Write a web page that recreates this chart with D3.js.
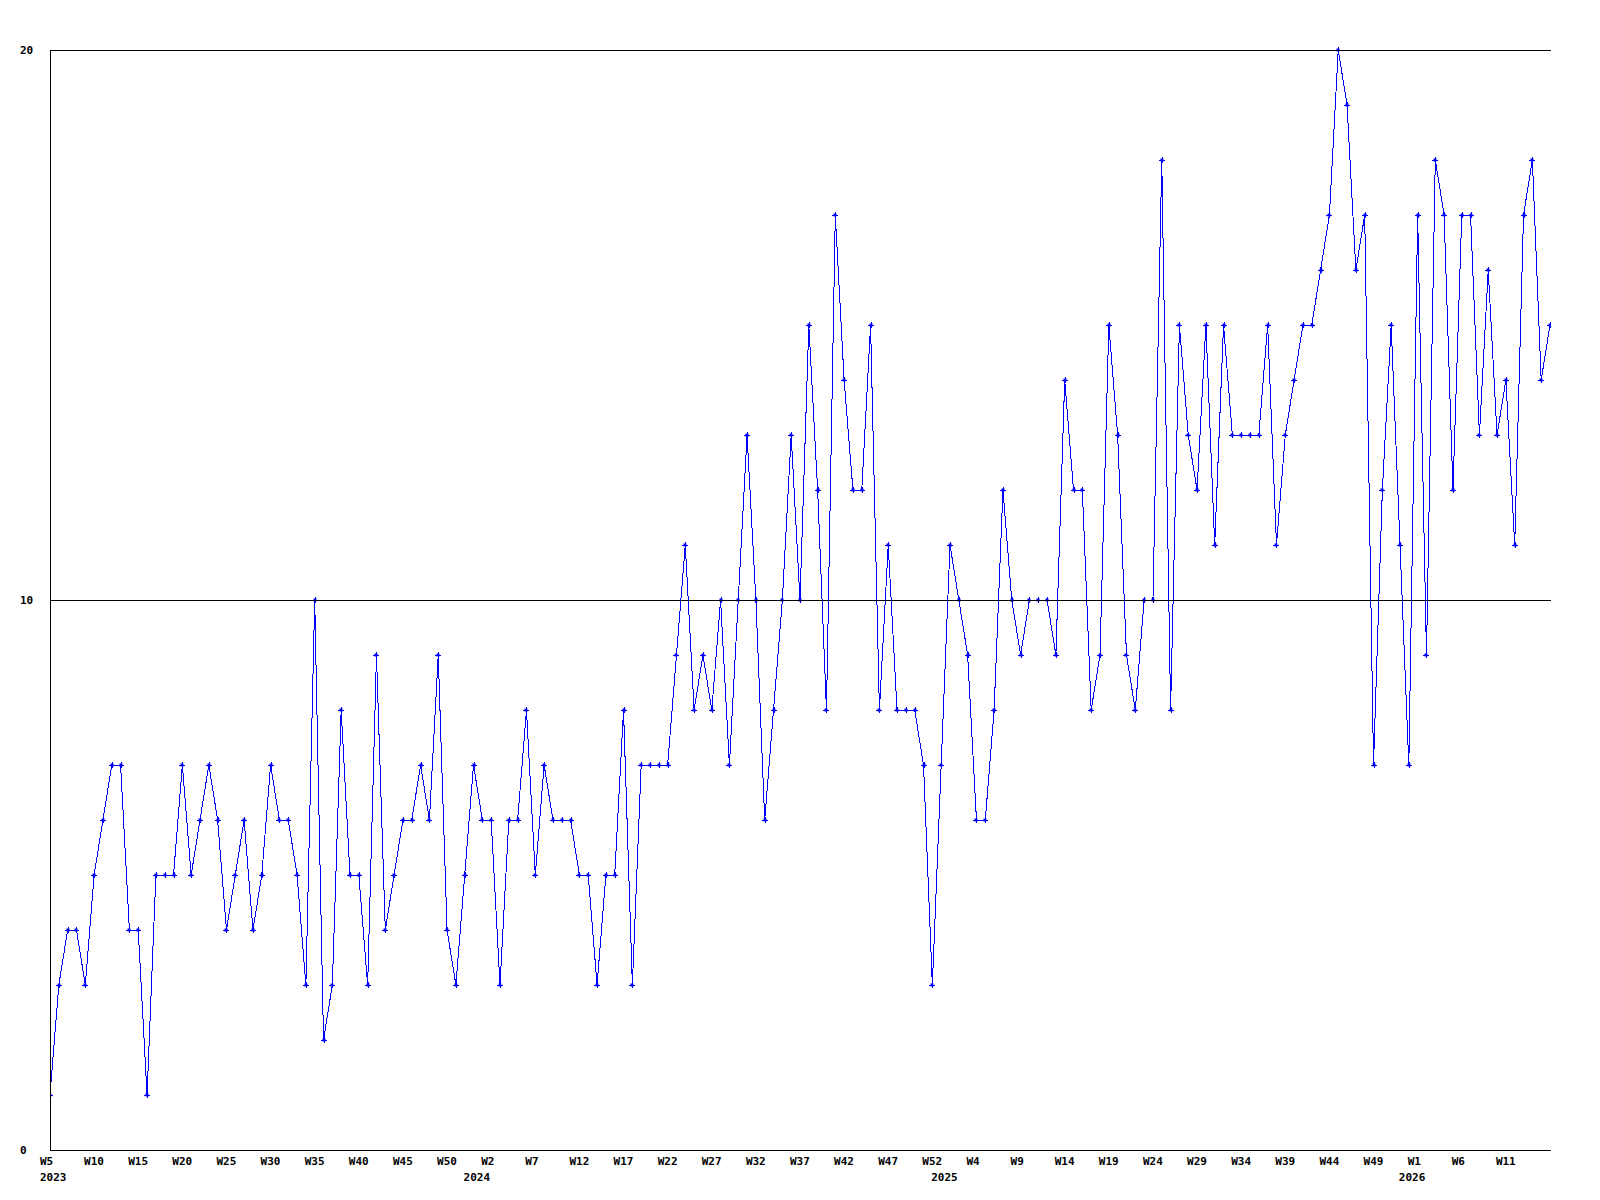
<!DOCTYPE html>
<html>
<head>
<meta charset="utf-8">
<script src="https://cdn.jsdelivr.net/npm/d3@7"></script>
<style>
body { margin: 0; background: #fff; }
text { font-family: "DejaVu Sans Mono", monospace; font-weight: bold; font-size: 11px; fill: #000; }
</style>
</head>
<body>
<svg width="1600" height="1200"></svg>
<script>
// weekly counts, W5 2023 .. W16 2026
var values = [
    1, 3, 4, 4, 3, 5, 6, 7, 7, 4,
    4, 1, 5, 5, 5, 7, 5, 6, 7, 6,
    4, 5, 6, 4, 5, 7, 6, 6, 5, 3,
    10, 2, 3, 8, 5, 5, 3, 9, 4, 5,
    6, 6, 7, 6, 9, 4, 3, 5, 7, 6,
    6, 3, 6, 6, 8, 5, 7, 6, 6, 6,
    5, 5, 3, 5, 5, 8, 3, 7, 7, 7,
    7, 9, 11, 8, 9, 8, 10, 7, 10, 13,
    10, 6, 8, 10, 13, 10, 15, 12, 8, 17,
    14, 12, 12, 15, 8, 11, 8, 8, 8, 7,
    3, 7, 11, 10, 9, 6, 6, 8, 12, 10,
    9, 10, 10, 10, 9, 14, 12, 12, 8, 9,
    15, 13, 9, 8, 10, 10, 18, 8, 15, 13,
    12, 15, 11, 15, 13, 13, 13, 13, 15, 11,
    13, 14, 15, 15, 16, 17, 20, 19, 16, 17,
    7, 12, 15, 11, 7, 17, 9, 18, 17, 12,
    17, 17, 13, 16, 13, 14, 11, 17, 18, 14,
    15
];

// one label every 5 points
var weekLabels = [
    "W5", "W10", "W15", "W20", "W25", "W30", "W35", "W40", "W45", "W50",
    "W2", "W7", "W12", "W17", "W22", "W27", "W32", "W37", "W42", "W47", "W52",
    "W4", "W9", "W14", "W19", "W24", "W29", "W34", "W39", "W44", "W49",
    "W1", "W6", "W11"
];
var yearLabels = ["2023", "2024", "2025", "2026"];
var yearIndex = [0, 48, 101, 154];
var yTicks = [0, 10, 20];

var svg = d3.select("svg"),
    plotLeft = 50, plotRight = 1550, plotTop = 50, plotBottom = 1150;

var x = d3.scaleLinear()
    .domain([0, values.length - 1])
    .range([plotLeft, plotRight]);

var y = d3.scaleLinear()
    .domain([0, 20])
    .range([plotBottom, plotTop]);

svg.append("clipPath")
    .attr("id", "plot")
    .append("rect")
    .attr("x", plotLeft).attr("y", plotTop - 5)
    .attr("width", plotRight - plotLeft + 1).attr("height", plotBottom - plotTop + 10);

var line = d3.line()
    .x(function (d, i) { return x(i); })
    .y(function (d) { return y(d); });

var series = svg.append("g").attr("clip-path", "url(#plot)");

series.append("path")
    .datum(values)
    .attr("fill", "none")
    .attr("stroke", "#0000ff")
    .attr("stroke-width", 1)
    .attr("shape-rendering", "crispEdges")
    .attr("d", line);

var marks = series.selectAll("g.mark")
    .data(values)
    .enter().append("g")
    .attr("class", "mark")
    .attr("transform", function (d, i) {
        return "translate(" + Math.round(x(i)) + "," + Math.round(y(d)) + ")";
    });

marks.append("rect")
    .attr("x", -1.5).attr("y", -1.5)
    .attr("width", 3).attr("height", 3)
    .attr("fill", "#0000ff");

marks.append("path")
    .attr("d", "M-3,0.5H3M0.5,-3V3")
    .attr("stroke", "#0000ff")
    .attr("stroke-width", 1)
    .attr("shape-rendering", "crispEdges");

// gridlines sit on top of the series
svg.append("g")
    .selectAll("line")
    .data(yTicks.slice(1))
    .enter().append("line")
    .attr("x1", plotLeft).attr("x2", plotRight + 1)
    .attr("y1", function (d) { return y(d) + 0.5; })
    .attr("y2", function (d) { return y(d) + 0.5; })
    .attr("stroke", "#000");

// axis frame
svg.append("line")
    .attr("x1", plotLeft + 0.5).attr("x2", plotLeft + 0.5)
    .attr("y1", plotTop).attr("y2", plotBottom + 1)
    .attr("stroke", "#000");
svg.append("line")
    .attr("x1", plotLeft).attr("x2", plotRight + 1)
    .attr("y1", plotBottom + 0.5).attr("y2", plotBottom + 0.5)
    .attr("stroke", "#000");

svg.append("g")
    .selectAll("text")
    .data(yTicks)
    .enter().append("text")
    .attr("x", 20)
    .attr("y", function (d) { return y(d) + 4; })
    .text(function (d) { return d; });

svg.append("g")
    .selectAll("text")
    .data(weekLabels)
    .enter().append("text")
    .attr("x", function (d, i) { return x(i * 5) - 10; })
    .attr("y", plotBottom + 15)
    .text(function (d) { return d; });

svg.append("g")
    .selectAll("text")
    .data(yearLabels)
    .enter().append("text")
    .attr("x", function (d, i) { return x(yearIndex[i]) - 10; })
    .attr("y", plotBottom + 31)
    .text(function (d) { return d; });
</script>
</body>
</html>
